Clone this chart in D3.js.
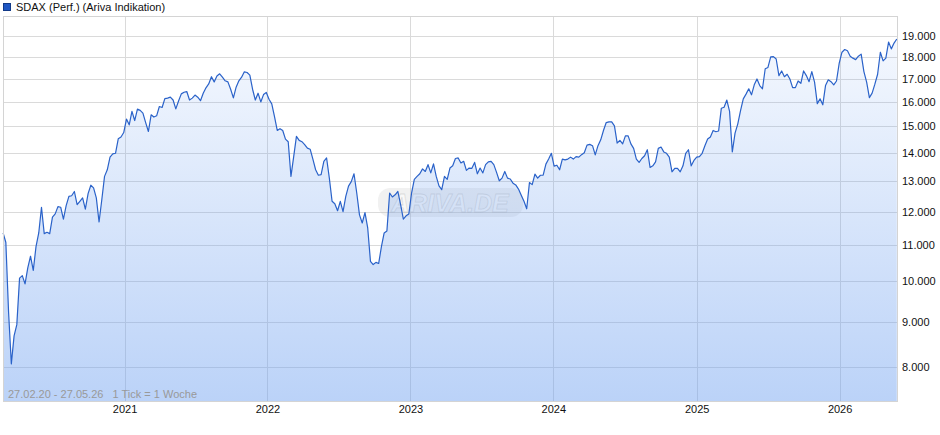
<!DOCTYPE html>
<html><head><meta charset="utf-8">
<script src="https://cdnjs.cloudflare.com/ajax/libs/d3/7.8.5/d3.min.js"></script>
<style>
html,body{margin:0;padding:0;background:#fff;}
svg{display:block;font-family:"Liberation Sans",Arial,sans-serif;}
</style></head>
<body>
<svg id="chart" width="940" height="435"></svg>
<script>
// ---- data ----
const seriesName = "SDAX (Perf.) (Ariva Indikation)";
const startLabel = "27.02.20";
const endLabel = "27.05.26";
const tickInfo = "1 Tick = 1 Woche";
const endDate = new Date(2026, 4, 27);
const startDate = new Date(2020, 1, 27);
// weekly closing values (1 Tick = 1 Woche), oldest first
const values = [
11350,11070,9220,8060,8670,8930,10085,10150,9935,10360,
10680,10290,10950,11350,12140,11330,11370,11330,11830,11930,
12160,12140,11770,12190,12490,12510,12650,12220,12330,12440,
12080,12580,12860,12770,12440,11680,12380,13160,13390,13840,
13960,13980,14520,14590,14760,15290,15060,15600,15230,15690,
15640,15530,15150,14800,15460,15370,15420,15800,15760,16130,
16150,16190,16070,15700,16030,16330,16400,16430,16070,16150,
16280,16190,16040,16360,16590,16760,17080,16850,17110,17210,
17060,16900,16850,16530,16160,16620,16900,17060,17300,17270,
17150,16530,16070,16360,15990,16300,16390,16100,15910,15390,
14840,14910,14840,14510,14410,13160,13860,14610,14460,14410,
14300,14170,14130,13770,13390,13200,13220,13690,13810,13100,
12330,12250,12030,12330,12000,12490,12830,12980,13250,12600,
11900,11650,11970,11500,10540,10450,10510,10480,10950,11350,
11410,12600,12470,12540,12650,12220,11770,11870,11930,12600,
13060,13160,13250,13420,13330,13570,13280,13600,13160,12840,
12710,13160,13060,13450,13530,13790,13810,13630,13690,13370,
13450,13440,13650,13250,13450,13280,13570,13670,13690,13570,
13300,13010,13100,13330,13100,13070,12930,12870,12730,12530,
12330,12090,12950,12880,13240,13100,13200,13200,13590,13770,
13980,13520,13550,13390,13770,13740,13770,13840,13770,13860,
13840,13930,14000,14280,14310,14260,13920,14260,14480,14840,
15150,15180,15180,15020,14360,14460,14330,14630,14630,14330,
14160,13770,13650,13790,13890,14110,13470,13530,13670,14160,
14210,14030,13980,13840,13320,13440,13440,13320,13530,13980,
14110,13530,13720,13840,13860,13980,14260,14510,14590,14840,
14790,14820,15730,15770,16070,15600,14030,14740,15100,15630,
16120,16320,16550,16290,16720,16980,16690,16550,17440,17500,
17990,18000,17890,17130,17340,17080,17190,16980,16600,16600,
16890,16790,17340,17130,16860,17310,16840,15920,16120,15870,
16690,16940,16860,16720,16890,17700,18210,18340,18280,18020,
17930,17860,18020,18120,17310,16840,16170,16360,16750,17190,
18210,17800,17930,18700,18370,18650,18850
];
const yTickValues = [8000,9000,10000,11000,12000,13000,14000,15000,16000,17000,18000,19000];
const xTickYears = [2021,2022,2023,2024,2025,2026];

// ---- layout ----
const L = 3, R = 898, T = 16, B = 401;
const svg = d3.select("#chart");

const dates = values.map((v, i) => d3.timeDay.offset(endDate, -7 * (values.length - 1 - i)));
const data = values.map((v, i) => ({date: dates[i], value: v}));

const x = d3.scaleTime().domain([startDate, endDate]).range([3.5, 896.8]);
const y = d3.scaleLog().domain([7313, 20020]).range([B, T]);

const de = d3.formatLocale({decimal: ",", thousands: ".", grouping: [3], currency: ["", "€"]});
const fmt = de.format(",");

// gradient
const defs = svg.append("defs");
const grad = defs.append("linearGradient").attr("id", "areaGrad")
  .attr("gradientUnits", "userSpaceOnUse").attr("x1", 0).attr("y1", T).attr("x2", 0).attr("y2", B);
grad.append("stop").attr("offset", "0%").attr("stop-color", "rgb(110,160,240)").attr("stop-opacity", 0.05);
grad.append("stop").attr("offset", "100%").attr("stop-color", "rgb(110,160,240)").attr("stop-opacity", 0.47);

// grid
const grid = svg.append("g");
grid.selectAll("line.h").data(yTickValues).join("line")
  .attr("x1", L).attr("x2", R).attr("y1", d => Math.round(y(d)) + 0.5).attr("y2", d => Math.round(y(d)) + 0.5)
  .attr("stroke", "#dadada").attr("stroke-width", 1);
grid.selectAll("line.v").data(xTickYears).join("line")
  .attr("x1", d => Math.round(x(new Date(d, 0, 1))) + 0.5).attr("x2", d => Math.round(x(new Date(d, 0, 1))) + 0.5)
  .attr("y1", T).attr("y2", B)
  .attr("stroke", "#dadada").attr("stroke-width", 1);

// watermark
const wm = svg.append("g");
wm.append("rect").attr("x", 378).attr("y", 188).attr("width", 145).attr("height", 29).attr("rx", 12)
  .attr("fill", "rgba(190,190,190,0.22)");
wm.append("text").attr("x", 450).attr("y", 212).attr("text-anchor", "middle")
  .attr("font-size", 25).attr("font-weight", "bold").attr("font-style", "italic")
  .attr("fill", "rgba(255,255,255,0.55)").attr("stroke", "rgba(170,170,170,0.35)").attr("stroke-width", 0.8)
  .text("ARIVA.DE");

// area + line
const area = d3.area().x(d => x(d.date)).y0(B).y1(d => y(d.value));
svg.append("path").datum(data).attr("d", area).attr("fill", "url(#areaGrad)");
const line = d3.line().x(d => x(d.date)).y(d => y(d.value));
svg.append("path").datum(data).attr("d", line).attr("fill", "none")
  .attr("stroke", "#2a62c9").attr("stroke-width", 1.2).attr("stroke-linejoin", "round");

// frame
svg.append("rect").attr("x", L + 0.5).attr("y", T + 0.5).attr("width", R - L - 1).attr("height", B - T)
  .attr("fill", "none").attr("stroke", "#d4d4d4");

// y axis labels (right)
const yAxis = d3.axisRight(y).tickValues(yTickValues).tickFormat(fmt).tickSize(0).tickPadding(4);
const ya = svg.append("g").attr("transform", `translate(${R},0)`).call(yAxis);
ya.select(".domain").remove();
ya.selectAll("text").attr("font-size", 11).attr("fill", "#111").attr("font-family", "Liberation Sans, Arial, sans-serif");

// x axis labels
const xAxis = d3.axisBottom(x).tickValues(xTickYears.map(yy => new Date(yy, 0, 1))).tickFormat(d3.timeFormat("%Y")).tickSize(0).tickPadding(4);
const xa = svg.append("g").attr("transform", `translate(0,${B})`).call(xAxis);
xa.select(".domain").remove();
xa.selectAll("text").attr("font-size", 11).attr("fill", "#111").attr("font-family", "Liberation Sans, Arial, sans-serif");

// period info
svg.append("text").attr("x", 8).attr("y", 398).attr("font-size", 11).attr("fill", "#999")
  .attr("xml:space", "preserve").style("white-space", "pre")
  .text(`${startLabel} - ${endLabel}   ${tickInfo}`);

// legend
svg.append("rect").attr("x", 3.5).attr("y", 3.5).attr("width", 7).attr("height", 7)
  .attr("fill", "#1f57c3").attr("stroke", "#123a88").attr("stroke-width", 1);
svg.append("text").attr("x", 16).attr("y", 11).attr("font-size", 11).attr("fill", "#111").text(seriesName);
</script>
</body></html>
